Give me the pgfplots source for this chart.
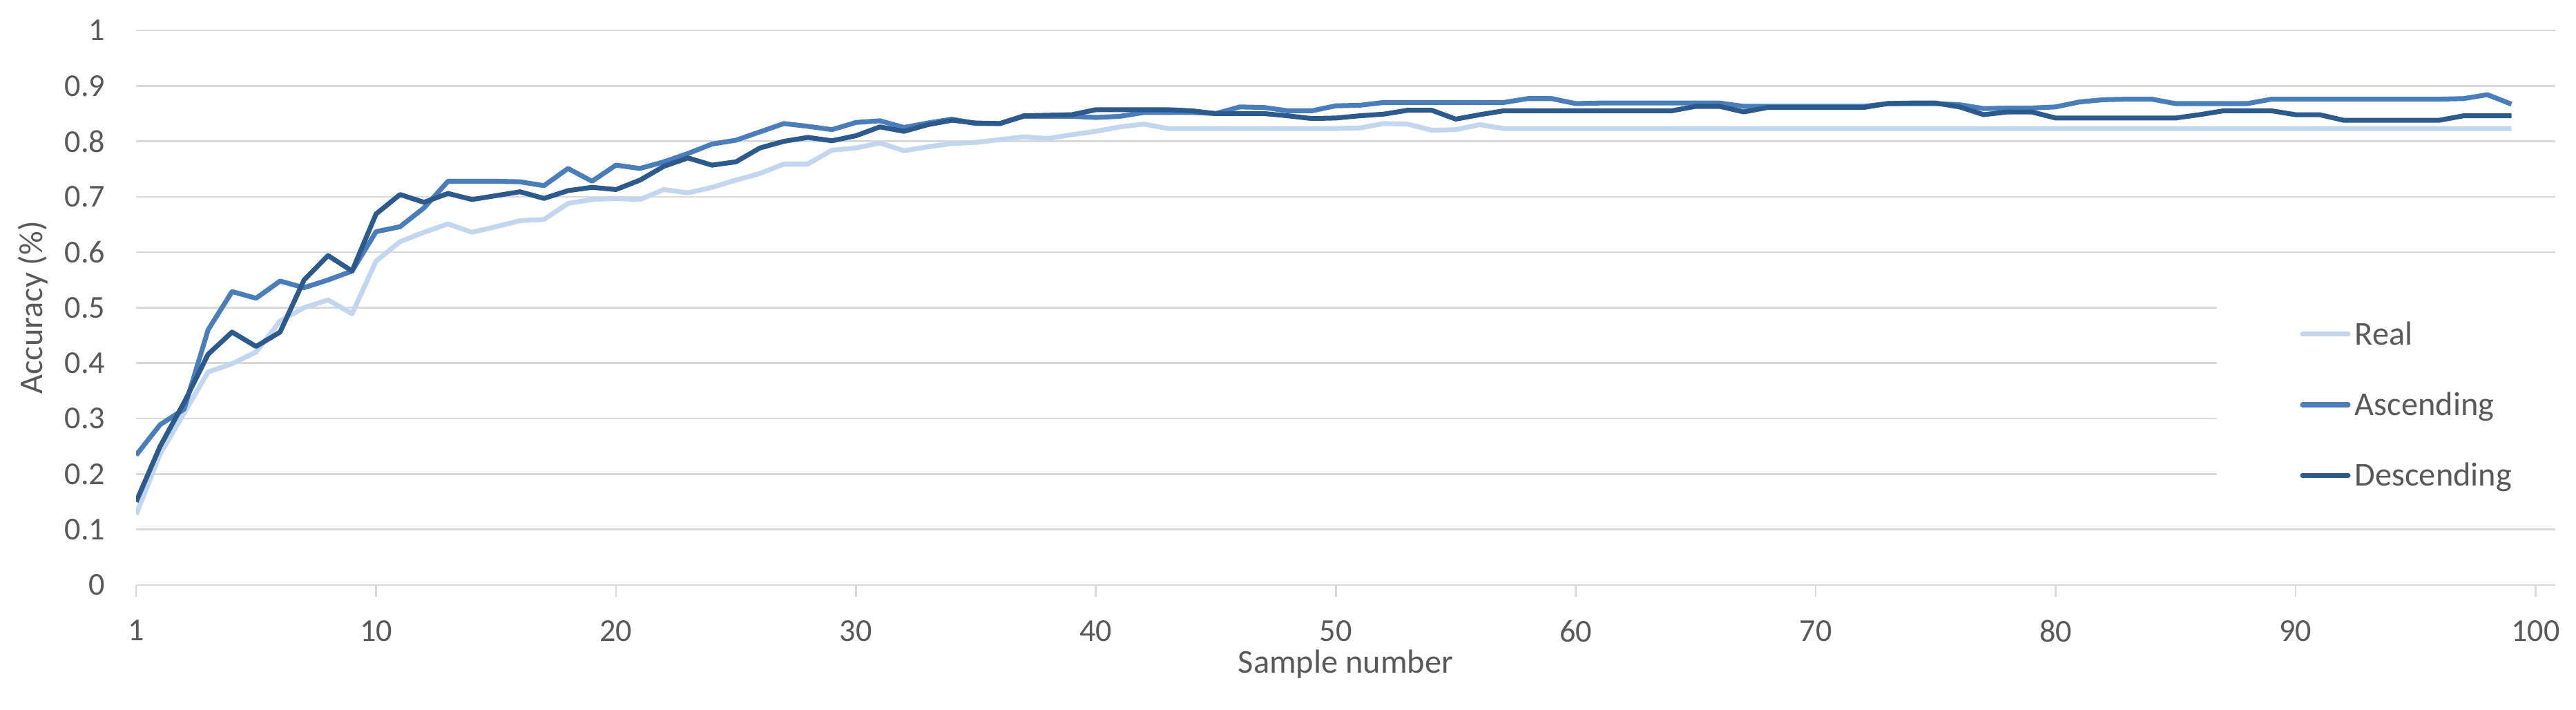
\documentclass[border=0pt]{standalone}
\usepackage{fontspec}
\setmainfont{Carlito}
\usepackage{pgfplots}
\usepackage{pgfplotstable}
\pgfplotsset{compat=1.18}
\definecolor{textgray}{HTML}{595959}
\definecolor{gridgray}{HTML}{D9D9D9}
\definecolor{realc}{HTML}{C2D7EF}
\definecolor{ascc}{HTML}{4A7EBB}
\definecolor{descc}{HTML}{2D5A8C}

\pgfplotstableread{
p R A D
0 0.127 0.234 0.150
1 0.236 0.289 0.250
2 0.310 0.317 0.329
3 0.384 0.460 0.416
4 0.399 0.529 0.456
5 0.420 0.517 0.430
6 0.476 0.548 0.456
7 0.500 0.536 0.550
8 0.514 0.550 0.594
9 0.489 0.566 0.566
10 0.584 0.637 0.669
11 0.619 0.646 0.704
12 0.636 0.680 0.690
13 0.651 0.728 0.706
14 0.636 0.728 0.695
15 0.646 0.728 0.702
16 0.657 0.727 0.709
17 0.659 0.720 0.697
18 0.688 0.751 0.711
19 0.695 0.728 0.717
20 0.697 0.757 0.713
21 0.695 0.751 0.730
22 0.713 0.763 0.755
23 0.707 0.778 0.770
24 0.717 0.795 0.757
25 0.730 0.802 0.763
26 0.742 0.817 0.788
27 0.759 0.832 0.800
28 0.759 0.827 0.807
29 0.784 0.821 0.801
30 0.788 0.834 0.810
31 0.797 0.837 0.826
32 0.783 0.825 0.818
33 0.790 0.833 0.830
34 0.796 0.840 0.838
35 0.798 0.832 0.833
36 0.803 0.832 0.832
37 0.808 0.845 0.846
38 0.805 0.845 0.847
39 0.812 0.845 0.848
40 0.818 0.843 0.857
41 0.826 0.845 0.857
42 0.831 0.852 0.857
43 0.823 0.852 0.857
44 0.823 0.852 0.855
45 0.823 0.850 0.850
46 0.823 0.862 0.850
47 0.823 0.861 0.850
48 0.823 0.855 0.846
49 0.823 0.855 0.841
50 0.823 0.864 0.842
51 0.824 0.865 0.846
52 0.832 0.870 0.849
53 0.831 0.870 0.856
54 0.820 0.870 0.856
55 0.821 0.870 0.840
56 0.830 0.870 0.848
57 0.823 0.870 0.855
58 0.823 0.877 0.855
59 0.823 0.877 0.855
60 0.823 0.868 0.855
61 0.823 0.869 0.855
62 0.823 0.869 0.855
63 0.823 0.869 0.855
64 0.823 0.869 0.855
65 0.823 0.869 0.863
66 0.823 0.869 0.863
67 0.823 0.863 0.853
68 0.823 0.863 0.861
69 0.823 0.863 0.861
70 0.823 0.863 0.861
71 0.823 0.863 0.861
72 0.823 0.863 0.861
73 0.823 0.868 0.868
74 0.823 0.868 0.869
75 0.823 0.868 0.869
76 0.823 0.866 0.862
77 0.823 0.859 0.848
78 0.823 0.860 0.853
79 0.823 0.860 0.853
80 0.823 0.862 0.842
81 0.823 0.871 0.842
82 0.823 0.875 0.842
83 0.823 0.876 0.842
84 0.823 0.876 0.842
85 0.823 0.868 0.842
86 0.823 0.868 0.848
87 0.823 0.868 0.855
88 0.823 0.868 0.855
89 0.823 0.876 0.855
90 0.823 0.876 0.848
91 0.823 0.876 0.848
92 0.823 0.876 0.838
93 0.823 0.876 0.838
94 0.823 0.876 0.838
95 0.823 0.876 0.838
96 0.823 0.876 0.838
97 0.823 0.877 0.846
98 0.823 0.884 0.846
99 0.823 0.867 0.846
}\datatable

\begin{document}
\begin{tikzpicture}
\useasboundingbox (-44.8pt,-41.1pt) rectangle (803.0pt,192.5pt);
\begin{axis}[
  at={(0,0)}, anchor=south west, scale only axis,
  width=796.2pt, height=182.5pt,
  xmin=0, xmax=100.83, ymin=0, ymax=1,
  xtick={0,10,20,30,40,50,60,70,80,90,100},
  xticklabels={1,10,20,30,40,50,60,70,80,90,100},
  ytick={0,0.1,0.2,0.3,0.4,0.5,0.6,0.7,0.8,0.9,1},
  yticklabels={0,0.1,0.2,0.3,0.4,0.5,0.6,0.7,0.8,0.9,1},
  axis x line*=bottom, axis y line*=left,
  x axis line style={draw=gridgray, line width=0.6pt, -},
  y axis line style={draw=none},
  ymajorgrids, grid style={draw=gridgray, line width=0.6pt},
  xtick style={draw=gridgray, line width=0.6pt},
  ytick style={draw=none},
  tick align=outside, major tick length=3.9pt,
  tick label style={font=\fontsize{10.5}{12}\selectfont, text=textgray},
  xticklabel style={yshift=-4.2pt},
  yticklabel style={xshift=-2.8pt},
  every axis x label/.style={at={(axis description cs:0.5,0)}, yshift=-26.1pt, anchor=center},
  every axis y label/.style={at={(axis description cs:0,0.5)}, xshift=-33.9pt, rotate=90, anchor=center},
  label style={font=\fontsize{11}{13}\selectfont, text=textgray},
  xlabel={Sample number},
  ylabel={Accuracy (\%)},
  legend style={
    at={(0.8597,0.325)}, anchor=west,
    draw=none, fill=white,
    inner xsep=27.5pt, inner ysep=8.3pt,
    row sep=16.1pt, column sep=1.4pt,
    nodes={inner sep=0pt, text height=7.1pt, text depth=0pt, text=textgray},
    font=\fontsize{11}{13}\selectfont,
  },
  legend cell align=left,
  legend image code/.code={\draw[#1, line cap=round] (0pt,0pt) -- (15pt,0pt);},
  every axis plot/.append style={line width=1.6pt, line join=round, no markers},
]
\addplot[color=realc] table[x=p, y=R] {\datatable};
\addlegendentry{Real}
\addplot[color=ascc] table[x=p, y=A] {\datatable};
\addlegendentry{Ascending}
\addplot[color=descc] table[x=p, y=D] {\datatable};
\addlegendentry{Descending}
\end{axis}
\end{tikzpicture}
\end{document}
